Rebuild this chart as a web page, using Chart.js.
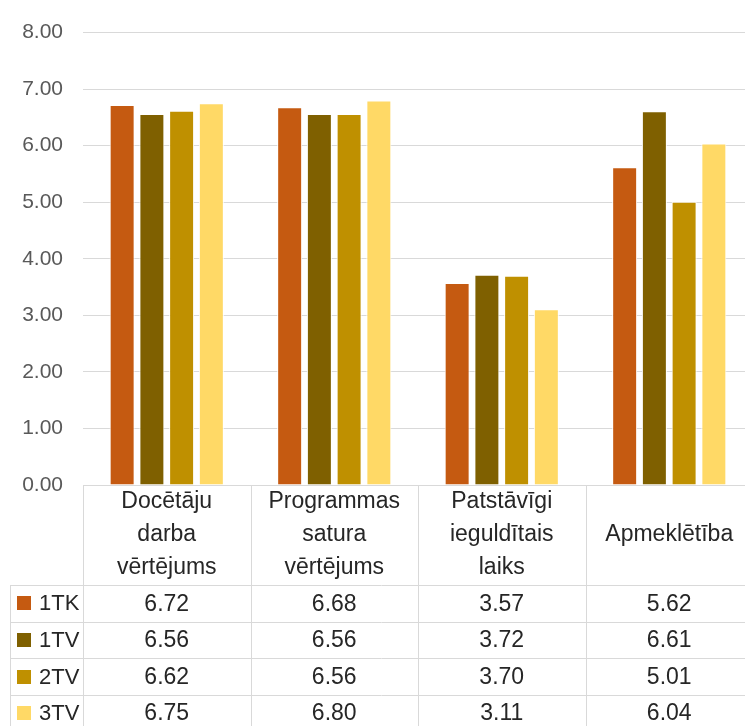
<!DOCTYPE html>
<html>
<head>
<meta charset="utf-8">
<script src="https://cdn.jsdelivr.net/npm/chart.js@4.4.1/dist/chart.umd.min.js"></script>
<style>
  html, body { margin: 0; padding: 0; background: #fff; overflow: hidden; }
  #wrap { position: absolute; left: 0; top: 0; width: 753px; height: 726px; }
</style>
</head>
<body>
<div id="wrap"><canvas id="chart"></canvas></div>
<script>
const categories = [
    ['Docētāju', 'darba', 'vērtējums'],
    ['Programmas', 'satura', 'vērtējums'],
    ['Patstāvīgi', 'ieguldītais', 'laiks'],
    ['Apmeklētība']
];
const seriesNames = ['1TK', '1TV', '2TV', '3TV'];
const values1TK = [6.72, 6.68, 3.57, 5.62];
const values1TV = [6.56, 6.56, 3.72, 6.61];
const values2TV = [6.62, 6.56, 3.70, 5.01];
const values3TV = [6.75, 6.80, 3.11, 6.04];
const seriesColors = ['#C55A11', '#7F6000', '#BF9000', '#FFD966'];

const FONT = '"Liberation Sans", Arial, sans-serif';

// Excel-style data table drawn under the plot
const dataTable = {
    id: 'dataTable',
    afterDraw(chart) {
        const { ctx, chartArea, scales: { x } } = chart;
        const n = categories.length;
        const cw = x.width / n;
        const top = chartArea.bottom;
        const headerH = 100;
        const rowH = 36.6;
        const legendLeft = 10;
        const bottom = chart.height + 2;
        const px = v => Math.round(v) + 0.5;

        ctx.save();
        ctx.strokeStyle = '#D9D9D9';
        ctx.lineWidth = 1;
        ctx.beginPath();
        // top border (axis line)
        ctx.moveTo(x.left, px(top));
        ctx.lineTo(x.right, px(top));
        // vertical lines
        for (let i = 0; i <= n; i++) {
            const xx = px(x.left + i * cw);
            ctx.moveTo(xx, top);
            ctx.lineTo(xx, bottom);
        }
        ctx.moveTo(px(legendLeft), top + headerH);
        ctx.lineTo(px(legendLeft), bottom);
        // row lines
        for (let r = 0; r < seriesNames.length; r++) {
            const yy = px(top + headerH + r * rowH);
            ctx.moveTo(legendLeft, yy);
            ctx.lineTo(x.right, yy);
        }
        ctx.stroke();

        ctx.fillStyle = '#262626';
        ctx.textAlign = 'center';
        ctx.textBaseline = 'middle';
        ctx.font = '23px ' + FONT;
        const lineH = 33;
        categories.forEach((lines, i) => {
            const cx = x.getPixelForValue(i);
            const cy = top + headerH / 2;
            lines.forEach((t, k) => {
                ctx.fillText(t, cx, cy + (k - (lines.length - 1) / 2) * lineH);
            });
        });

        chart.data.datasets.forEach((ds, r) => {
            const cy = top + headerH + r * rowH + rowH / 2;
            ctx.fillStyle = ds.backgroundColor;
            ctx.fillRect(17, Math.round(cy - 7), 14, 14);
            ctx.fillStyle = '#262626';
            ctx.textAlign = 'left';
            ctx.font = '22px ' + FONT;
            ctx.fillText(ds.label, 39, cy + 1);
            ctx.textAlign = 'center';
            ctx.font = '23px ' + FONT;
            ds.data.forEach((v, i) => {
                ctx.fillText(v.toFixed(2), x.getPixelForValue(i), cy + 1);
            });
        });
        ctx.restore();
    }
};

const seriesValues = [values1TK, values1TV, values2TV, values3TV];

new Chart(document.getElementById('chart'), {
    type: 'bar',
    data: {
        labels: categories,
        datasets: seriesNames.map((name, i) => ({
            label: name,
            data: seriesValues[i],
            backgroundColor: seriesColors[i],
            borderColor: '#FFFFFF',
            borderWidth: 1,
            categoryPercentage: 0.71,
            barPercentage: 0.84
        }))
    },
    options: {
        responsive: true,
        maintainAspectRatio: false,
        animation: false,
        layout: {
            padding: { top: 24, bottom: 241, left: 0, right: 0 }
        },
        plugins: {
            legend: { display: false },
            tooltip: { enabled: false }
        },
        scales: {
            x: {
                display: false
            },
            y: {
                min: 0,
                max: 8,
                afterFit(scale) { scale.width = 83; },
                ticks: {
                    stepSize: 1,
                    padding: 20,
                    color: '#595959',
                    font: { family: FONT, size: 21 },
                    callback: v => v.toFixed(2)
                },
                grid: { color: '#D9D9D9', drawTicks: false },
                border: { display: false }
            }
        }
    },
    plugins: [dataTable]
});
</script>
</body>
</html>
